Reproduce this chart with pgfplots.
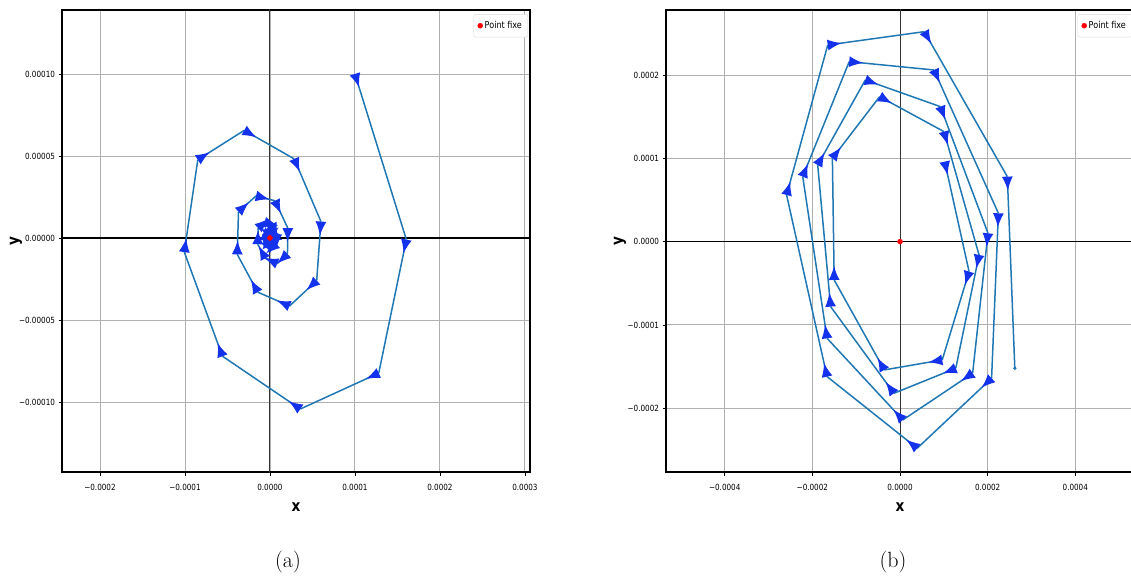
\documentclass[border=0pt]{standalone}
\usepackage{fontspec}
\usepackage{pgfplots}
\usepackage{pgfplotstable}
\pgfplotsset{compat=1.18}
\usetikzlibrary{arrows.meta}

\newfontfamily\tickfont[FakeStretch=0.85]{DejaVu Sans}
\definecolor{trajblue}{HTML}{1F77B4}
\definecolor{headblue}{RGB}{20,50,235}
\definecolor{gridgray}{HTML}{B0B0B0}

% trajectories in units of 1e-4: point, then the next point
\pgfplotstableread{
x y nx ny
1.000 1.000 1.605 -0.010
1.605 -0.010 1.280 -0.824
1.280 -0.824 0.357 -1.043
0.357 -1.043 -0.559 -0.721
-0.559 -0.721 -1.008 -0.086
-1.008 -0.086 -0.849 0.477
-0.849 0.477 -0.303 0.656
-0.303 0.656 0.286 0.482
0.286 0.482 0.600 0.100
0.600 0.100 0.550 -0.260
0.550 -0.260 0.230 -0.415
0.230 -0.415 -0.145 -0.330
-0.145 -0.330 -0.385 -0.100
-0.385 -0.100 -0.370 0.160
-0.370 0.160 -0.164 0.256
-0.164 0.256 0.059 0.227
0.059 0.227 0.210 0.060
0.210 0.060 0.206 -0.098
0.206 -0.098 0.086 -0.156
0.086 -0.156 -0.054 -0.124
-0.054 -0.124 -0.144 -0.038
-0.144 -0.038 -0.139 0.060
-0.139 0.060 -0.062 0.096
-0.062 0.096 0.022 0.085
0.022 0.085 0.079 0.022
0.079 0.022 0.077 -0.037
0.077 -0.037 0.032 -0.058
0.032 -0.058 -0.020 -0.047
-0.020 -0.047 -0.054 -0.014
-0.054 -0.014 -0.052 0.023
-0.052 0.023 -0.023 0.036
-0.023 0.036 0.008 0.032
0.008 0.032 0.030 0.008
0.030 0.008 0.029 -0.014
0.029 -0.014 0.012 -0.022
0.012 -0.022 -0.008 -0.018
-0.008 -0.018 -0.020 -0.005
-0.020 -0.005 -0.020 0.009
-0.020 0.009 -0.009 0.014
-0.009 0.014 0.003 0.012
}\trajA

\pgfplotstableread{
x y nx ny
1.020 0.96 1.576 -0.36
1.576 -0.36 0.963 -1.42
0.963 -1.42 -0.359 -1.54
-0.359 -1.54 -1.502 -0.46
-1.502 -0.46 -1.543 1.00
-1.543 1.00 -0.465 1.74
-0.465 1.74 1.004 1.32
1.004 1.32 1.804 -0.16
1.804 -0.16 1.273 -1.52
1.273 -1.52 -0.139 -1.82
-0.139 -1.82 -1.584 -0.78
-1.584 -0.78 -1.878 0.92
-1.878 0.92 -0.792 1.94
-0.792 1.94 0.922 1.62
0.922 1.62 2.008 0.10
2.008 0.10 1.657 -1.58
1.657 -1.58 0.065 -2.14
0.065 -2.14 -1.665 -1.16
-1.665 -1.16 -2.220 0.78
-2.220 0.78 -1.159 2.16
-1.159 2.16 0.776 2.06
0.776 2.06 2.245 0.34
2.245 0.34 2.090 -1.64
2.090 -1.64 0.392 -2.48
0.392 -2.48 -1.665 -1.62
-1.665 -1.62 -2.588 0.56
-2.588 0.56 -1.649 2.36
-1.649 2.36 0.555 2.52
0.555 2.52 2.449 0.78
2.449 0.78 2.620 -1.52
}\trajB

\pgfplotsset{
  phase/.style={
    scale only axis, width=468pt, height=462pt, anchor=south west,
    axis line style={black, line width=1.2pt},
    tick align=outside, tick pos=left, major tick length=3.5pt,
    tick style={black, line width=0.8pt},
    grid=major, grid style={gridgray, line width=0.9pt},
    ticklabel style={font=\tickfont\fontsize{8.5}{9}\selectfont},
    xticklabel style={yshift=-5pt},
    xlabel={x}, ylabel={y},
    every axis x label/.style={at={(axis description cs:0.5,0)}, anchor=center, yshift=-35pt,
      font=\tickfont\bfseries\fontsize{16}{18}\selectfont},
    every axis y label/.style={at={(axis description cs:0,0.5)}, anchor=center, xshift=-46pt, rotate=90,
      font=\tickfont\bfseries\fontsize{16}{18}\selectfont},
    legend style={at={(0.996,0.991)}, anchor=north east, draw=gray!30, rounded corners=2pt,
      font=\tickfont\fontsize{9.5}{11}\selectfont, inner xsep=4pt, inner ysep=5pt},
  },
  traj/.style={quiver={u=\thisrow{nx}-\thisrow{x}, v=\thisrow{ny}-\thisrow{y}},
    trajblue, line width=1.5pt, arrows={{Latex[reversed,length=14pt,width=11pt,color=headblue]}-}, forget plot},
}

\begin{document}
\begin{tikzpicture}
\useasboundingbox (0,0) rectangle (1131pt,579pt);

\begin{axis}[phase, at={(62pt,107pt)},
  xmin=-2.447, xmax=3.06, ymin=-1.427, ymax=1.39,
  xtick={-2,-1,0,1,2,3},
  xticklabels={−0.0002,−0.0001,0.0000,0.0001,0.0002,0.0003},
  ytick={-1,-0.5,0,0.5,1},
  yticklabels={−0.00010,−0.00005,0.00000,0.00005,0.00010}]
\addplot[black, line width=1.6pt, forget plot] coordinates {(-3,0) (4,0)};
\addplot[black!80, line width=1pt, forget plot] coordinates {(0,-2) (0,2)};
\addplot[traj] table {\trajA};
\addplot[only marks, mark=*, mark size=2.5pt, red] coordinates {(0,0)};
\addlegendentry{Point fixe}
\end{axis}

\begin{axis}[phase, at={(666pt,107pt)},
  xmin=-5.34, xmax=5.34, ymin=-2.765, ymax=2.78,
  xtick={-4,-2,0,2,4},
  xticklabels={−0.0004,−0.0002,0.0000,0.0002,0.0004},
  ytick={-2,-1,0,1,2},
  yticklabels={−0.0002,−0.0001,0.0000,0.0001,0.0002}]
\addplot[black, line width=1.6pt, forget plot] coordinates {(-6,0) (6,0)};
\addplot[black!80, line width=1pt, forget plot] coordinates {(0,-3) (0,3)};
\addplot[traj] table {\trajB};
\addplot[only marks, mark=*, mark size=1.5pt, trajblue, forget plot] coordinates {(2.620,-1.52)};
\addplot[only marks, mark=*, mark size=2.5pt, red] coordinates {(0,0)};
\addlegendentry{Point fixe}
\end{axis}

\node[font=\fontsize{22}{26}\selectfont] at (288pt,17pt) {(a)};
\node[font=\fontsize{22}{26}\selectfont] at (893pt,17pt) {(b)};
\end{tikzpicture}
\end{document}
